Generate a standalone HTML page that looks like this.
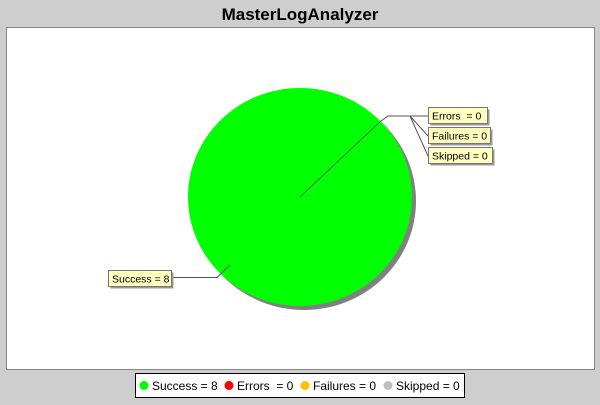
<!DOCTYPE html>
<html><head><meta charset="utf-8"><style>
body{margin:0;width:600px;height:400px;background:#cecece;font-family:"Liberation Sans",sans-serif;overflow:hidden}
text{white-space:pre}
</style></head><body>
<svg width="600" height="400" xmlns="http://www.w3.org/2000/svg">
<text x="300" y="20" text-anchor="middle" font-size="17" font-weight="bold" fill="#000">MasterLogAnalyzer</text>
<rect x="6.5" y="27.5" width="588" height="342" fill="#fff" stroke="#888"/>
<g id="pie"></g>
<g id="labels" font-size="10.5"></g>
<rect x="135.5" y="373.5" width="329" height="24" fill="#fff" stroke="#000"/>
<g id="legend" font-size="12"></g>
</svg>
<script>
const categories=["Success","Errors","Failures","Skipped"];
const values=[8,0,0,0];
const labelText=["Success = 8","Errors  = 0","Failures = 0","Skipped = 0"];
const colors=["#00ff00","#ff0000","#ffc000","#c0c0c0"];
const NS="http://www.w3.org/2000/svg";
function mk(tag,attrs,parent){const e=document.createElementNS(NS,tag);for(const k in attrs)e.setAttribute(k,attrs[k]);parent.appendChild(e);return e;}
const cx=300,cy=197,rx=112,ry=109,startDeg=44;
const pie=document.getElementById('pie');
const sh=mk('ellipse',{cx:cx+4,cy:cy+4,rx:rx,ry:ry,fill:'#808080'},pie);


const total=values.reduce((a,b)=>a+b,0);
function pt(deg){const r=deg*Math.PI/180;return [cx+rx*Math.cos(r),cy-ry*Math.sin(r)];}
let ang=startDeg;
values.forEach((v,i)=>{
  if(v<=0||total===0)return;
  const sweep=v/total*360;let el;
  if(sweep>=359.99){el=mk('ellipse',{cx:cx,cy:cy,rx:rx,ry:ry,fill:colors[i]},pie);}
  else{const a=pt(ang),b=pt(ang-sweep);
    el=mk('path',{d:`M${cx},${cy}L${a[0]},${a[1]}A${rx},${ry} 0 ${sweep>180?1:0} 1 ${b[0]},${b[1]}Z`,fill:colors[i]},pie);}
  
  
  ang-=sweep;
});
const e0=pt(startDeg);
const bl=mk('line',{x1:cx,y1:cy,x2:e0[0],y2:e0[1],stroke:'#555','stroke-width':0.8},pie);


const lab=document.getElementById('labels');
const boxes=[[108,270,63],[428,107,59],[428,127,62],[428,147,64]];
const ll=mk('path',{d:`M${e0[0]},${e0[1]}L388,116L428,116 M410,116L428,136 M410,116L428,156 M230,265L217,277.5L171,277.5`,stroke:'#555',fill:'none','stroke-width':1},lab);


labelText.forEach((t,i)=>{
  const [x,y,w]=boxes[i];
  const g=mk('g',{},lab);
  
  
  mk('rect',{x:x+2.5,y:y+2.5,width:w,height:16,fill:'#999'},g);
  mk('rect',{x:x+.5,y:y+.5,width:w,height:16,fill:'#ffffc0',stroke:'#777'},g);
  const tx=mk('text',{x:x+4,y:y+12.5,fill:'#000'},g);tx.textContent=t;
});
const leg=document.getElementById('legend');
const lx=[144,229,305,388];
labelText.forEach((t,i)=>{
  const g=mk('g',{},leg);
  
  
  mk('circle',{cx:lx[i],cy:385.5,r:4.5,fill:colors[i]},g);
  const tx=mk('text',{x:lx[i]+8,y:390,fill:'#000'},g);tx.textContent=t;
});
</script>
</body></html>
